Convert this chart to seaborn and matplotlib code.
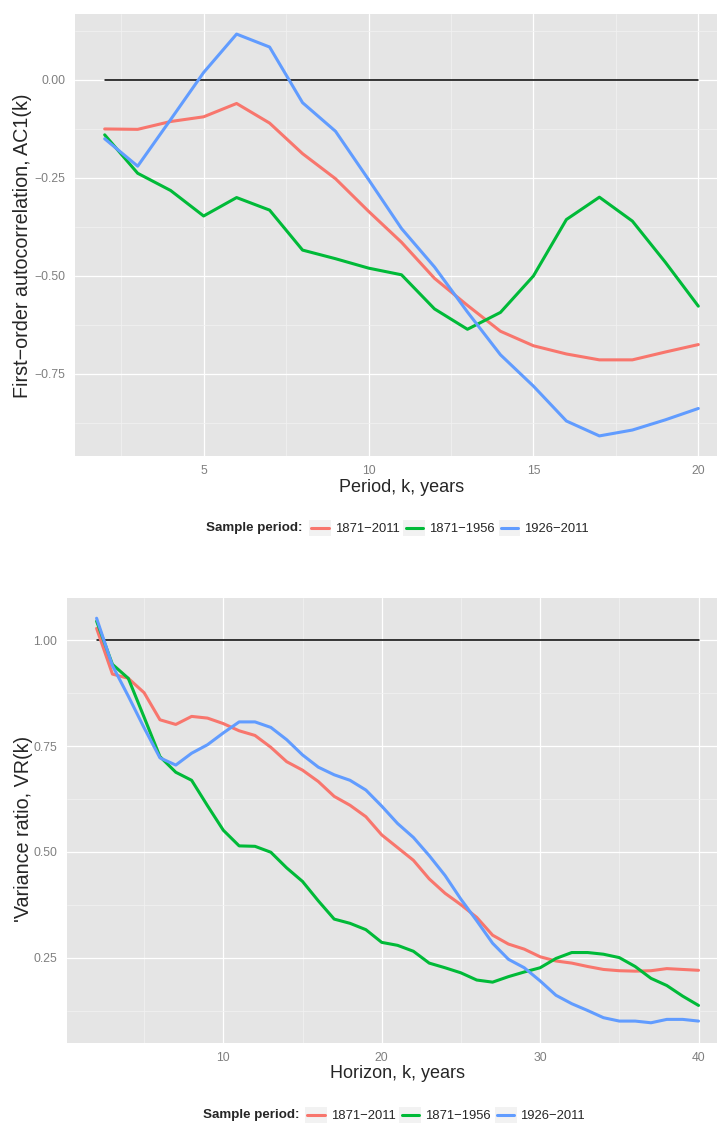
import matplotlib
matplotlib.use("Agg")
import numpy as np
import pandas as pd
import matplotlib.pyplot as plt
from matplotlib.lines import Line2D
from matplotlib.patches import Rectangle
from matplotlib.legend_handler import HandlerBase
import seaborn as sns

# ---------------------------------------------------------------- data
periods = ["1871\u22122011", "1871\u22121956", "1926\u22122011"]
colors = ["#F8766D", "#00BA38", "#619CFF"]

# First-order autocorrelation of k-year returns
ac_k = list(range(2, 21))
ac_1871_2011 = [-0.125, -0.126, -0.106, -0.094, -0.060, -0.110, -0.188, -0.252,
                -0.335, -0.414, -0.506, -0.575, -0.641, -0.678, -0.699, -0.714,
                -0.714, -0.694, -0.675]
ac_1871_1956 = [-0.140, -0.238, -0.282, -0.347, -0.300, -0.332, -0.434, -0.456,
                -0.480, -0.497, -0.584, -0.636, -0.593, -0.500, -0.356, -0.299,
                -0.360, -0.465, -0.577]
ac_1926_2011 = [-0.150, -0.220, -0.101, 0.019, 0.117, 0.084, -0.058, -0.131,
                -0.254, -0.379, -0.477, -0.592, -0.701, -0.781, -0.870, -0.908,
                -0.893, -0.867, -0.838]

# Variance ratio at horizon k
vr_k = list(range(2, 41))
vr_1871_2011 = [1.028, 0.920, 0.910, 0.876, 0.812, 0.801, 0.820, 0.816, 0.803,
                0.786, 0.775, 0.747, 0.713, 0.693, 0.666, 0.631, 0.610, 0.583,
                0.540, 0.510, 0.480, 0.436, 0.402, 0.375, 0.345, 0.303, 0.282,
                0.270, 0.252, 0.242, 0.237, 0.229, 0.222, 0.219, 0.218, 0.219,
                0.224, 0.222, 0.220]
vr_1871_1956 = [1.045, 0.943, 0.910, 0.818, 0.725, 0.688, 0.669, 0.609, 0.551,
                0.514, 0.513, 0.499, 0.462, 0.430, 0.384, 0.341, 0.331, 0.316,
                0.286, 0.279, 0.265, 0.237, 0.226, 0.214, 0.197, 0.192, 0.205,
                0.216, 0.226, 0.248, 0.262, 0.262, 0.258, 0.250, 0.229, 0.201,
                0.184, 0.159, 0.137]
vr_1926_2011 = [1.052, 0.940, 0.868, 0.793, 0.722, 0.705, 0.733, 0.753, 0.781,
                0.807, 0.807, 0.794, 0.765, 0.729, 0.700, 0.682, 0.669, 0.646,
                0.608, 0.567, 0.534, 0.491, 0.444, 0.388, 0.337, 0.284, 0.246,
                0.226, 0.195, 0.161, 0.141, 0.125, 0.108, 0.100, 0.100, 0.096,
                0.104, 0.104, 0.100]

ac_ticks = [5, 10, 15, 20]
ac_yticks = [0.0, -0.25, -0.50, -0.75]
vr_ticks = [10, 20, 30, 40]
vr_yticks = [0.25, 0.50, 0.75, 1.00]


def long_frame(k, series):
    rows = []
    for name, vals in zip(periods, series):
        rows.append(pd.DataFrame({"k": k, "value": vals, "Sample period": name}))
    return pd.concat(rows, ignore_index=True)


ac_df = long_frame(ac_k, [ac_1871_2011, ac_1871_1956, ac_1926_2011])
vr_df = long_frame(vr_k, [vr_1871_2011, vr_1871_1956, vr_1926_2011])
palette = dict(zip(periods, colors))

# ---------------------------------------------------------------- style
sns.set_style("darkgrid")
plt.rcParams["font.family"] = ["Liberation Sans", "DejaVu Sans"]
plt.rcParams["axes.unicode_minus"] = True

W, H = 717, 1124
fig = plt.figure(figsize=(W / 100, H / 100), dpi=100)
fig.patch.set_facecolor("white")

GREY = "#7F7F7F"
XTITLE_SIZE = 13
YTITLE_SIZE = 14.2


def expand(lo, hi, f=0.05):
    r = hi - lo
    return lo - f * r, hi + f * r


def style_axes(ax, xt, yt, ylabels, xlim, ylim):
    ax.set_facecolor("#E5E5E5")
    for s in ax.spines.values():
        s.set_visible(False)
    ax.set_xlim(*xlim)
    ax.set_ylim(*ylim)
    ax.set_xticks(xt)
    ax.set_xticklabels([str(v) for v in xt])
    ax.set_yticks(yt)
    ax.set_yticklabels(ylabels)
    step_x = xt[1] - xt[0]
    step_y = abs(yt[1] - yt[0])
    mx = np.arange(xt[0] - step_x / 2, xlim[1], step_x)
    my = np.arange(min(yt) - step_y / 2, ylim[1], step_y)
    ax.set_xticks([v for v in mx if xlim[0] < v < xlim[1]], minor=True)
    ax.set_yticks([v for v in my if ylim[0] < v < ylim[1]], minor=True)
    ax.grid(True, which="major", color="white", linewidth=0.9)
    ax.grid(True, which="minor", color="#F2F2F2", linewidth=0.5)
    ax.tick_params(which="major", length=3.8, width=0.8, color=GREY,
                   labelcolor=GREY, labelsize=8.7, pad=3.0)
    ax.tick_params(which="minor", length=0)
    ax.set_axisbelow(True)


class KeyHandler(HandlerBase):
    def __init__(self, color):
        super().__init__()
        self.color = color

    def create_artists(self, legend, orig_handle, xdescent, ydescent, width,
                       height, fontsize, trans):
        bg = Rectangle((-xdescent, -ydescent), width, height,
                       facecolor="#F2F2F2", edgecolor="none", transform=trans)
        y = -ydescent + height / 2
        ln = Line2D([-xdescent + 0.1 * width, -xdescent + 0.9 * width], [y, y],
                    color=self.color, linewidth=2.2, transform=trans)
        return [bg, ln]


def add_legend(center_px, y_px):
    fs = 9.4
    fig.text((center_px - 98.5) / W, 1 - y_px / H, "Sample period:",
             ha="right", va="center", fontsize=9.6, fontweight="bold")
    handles = [Line2D([], [], color=c) for c in colors]
    fig.legend(handles, periods, loc="center left",
               bbox_to_anchor=((center_px - 92.5) / W, 1 - y_px / H),
               ncol=3, frameon=False, fontsize=fs, borderpad=0,
               borderaxespad=0, handlelength=1.67, handleheight=1.6,
               handletextpad=0.3, columnspacing=0.3,
               handler_map={h: KeyHandler(c) for h, c in zip(handles, colors)})


def fmt(v):
    return f"{v:.2f}".replace("-", "\u2212")


# ---------------------------------------------------------------- top panel
l1, r1, t1, b1 = 75, 728, 14, 456
ax1 = fig.add_axes([l1 / W, 1 - b1 / H, (r1 - l1) / W, (b1 - t1) / H])
xl = expand(min(ac_k), max(ac_k))
all_ac = ac_1871_2011 + ac_1871_1956 + ac_1926_2011
yl = expand(min(all_ac), max(all_ac))
style_axes(ax1, ac_ticks, ac_yticks, [fmt(v) for v in ac_yticks], xl, yl)
ax1.plot([min(ac_k), max(ac_k)], [0, 0], color="black", linewidth=1.1, zorder=2)
sns.lineplot(data=ac_df, x="k", y="value", hue="Sample period", palette=palette,
             linewidth=2.2, legend=False, errorbar=None, ax=ax1, zorder=3)
ax1.set_xlabel("Period, k, years", fontsize=XTITLE_SIZE, va="center")
ax1.set_ylabel("First\u2212order autocorrelation, AC1(k)", fontsize=YTITLE_SIZE,
               va="center")
ax1.xaxis.set_label_coords(0.5, -(487 - b1) / (b1 - t1))
ax1.yaxis.set_label_coords((22.5 - l1) / (r1 - l1), 1 - (246 - t1) / (b1 - t1))
add_legend((l1 + r1) / 2, 528)

# ---------------------------------------------------------------- bottom panel
l2, r2, t2, b2 = 66.5, 728.6, 598, 1043
ax2 = fig.add_axes([l2 / W, 1 - b2 / H, (r2 - l2) / W, (b2 - t2) / H])
xl = expand(min(vr_k), max(vr_k))
all_vr = vr_1871_2011 + vr_1871_1956 + vr_1926_2011
yl = expand(min(all_vr), max(all_vr))
style_axes(ax2, vr_ticks, vr_yticks, [fmt(v) for v in vr_yticks], xl, yl)
ax2.plot([min(vr_k), max(vr_k)], [1, 1], color="black", linewidth=1.1, zorder=2)
sns.lineplot(data=vr_df, x="k", y="value", hue="Sample period", palette=palette,
             linewidth=2.2, legend=False, errorbar=None, ax=ax2, zorder=3)
ax2.set_xlabel("Horizon, k, years", fontsize=XTITLE_SIZE, va="center")
ax2.set_ylabel("'Variance ratio, VR(k)", fontsize=YTITLE_SIZE, va="center")
ax2.xaxis.set_label_coords(0.5, -(1073 - b2) / (b2 - t2))
ax2.yaxis.set_label_coords((24 - l2) / (r2 - l2), 1 - (829 - t2) / (b2 - t2))
add_legend((l2 + r2) / 2, 1115)

fig.savefig("out.png", dpi=100)
